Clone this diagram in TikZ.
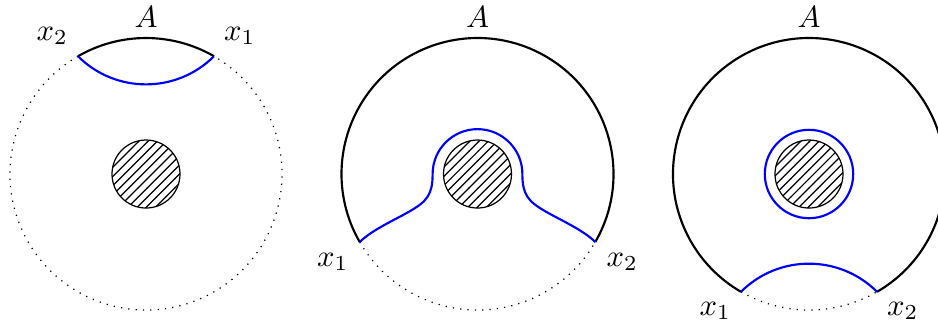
\documentclass[tikz,border=0pt]{standalone}
\usepackage{amsmath,amssymb}
\usepackage{tikz}
\usetikzlibrary{patterns, calc}

\begin{document}
\begin{tikzpicture}[
    x=0.39cm, y=0.39cm,
    bdry/.style={line width=0.7pt},
    geod/.style={blue, line width=0.7pt},
    open/.style={dotted},
    hole/.style={draw, pattern=north east lines}
]
\useasboundingbox (-4.294,-4.471) rectangle (23.294,5.118);

% === left: A small ===
\begin{scope}[shift={(0,0)}]
\coordinate (La) at (60:4);
\coordinate (Lb) at (120:4);
\draw[open] (120:4) arc[start angle=120, end angle=420, radius=4];
\draw[bdry] (La) arc[start angle=60, end angle=120, radius=4];
\draw[geod] (Lb) to[bend right=45] (La);
\draw[hole] (0,0) circle[radius=1];
\node (LA) at (0,4) [above] {$A$};
\node (Lx1) at (2.76,4.06) {$x_1$};
\node (Lx2) at (-2.76,4.06) {$x_2$};
\end{scope}

% === middle: A large, curve wraps the hole ===
\begin{scope}[shift={(9.75,0)}]
\coordinate (Ma) at (210:4);
\coordinate (Mb) at (-30:4);
\draw[open] (Ma) arc[start angle=210, end angle=330, radius=4];
\draw[bdry] (Mb) arc[start angle=-30, end angle=210, radius=4];
\draw[geod] (Ma)
    .. controls +(45:0.5) and +(210:0.5) .. (-2.0,-1.1)
    .. controls +(30:0.6) and +(0,-0.6) .. (-1.32,0)
    arc[start angle=180, end angle=0, radius=1.32]
    .. controls +(0,-0.6) and +(150:0.6) .. (2.0,-1.1)
    .. controls +(-30:0.5) and +(135:0.5) .. (Mb);
\draw[hole] (0,0) circle[radius=1];
\node (MA) at (0,4) [above] {$A$};
\node (Mx1) at (-4.26,-2.59) {$x_1$};
\node (Mx2) at (4.26,-2.59) {$x_2$};
\end{scope}

% === right: A large, two pieces ===
\begin{scope}[shift={(19.5,0)}]
\coordinate (Ra) at (240:4);
\coordinate (Rb) at (300:4);
\draw[open] (Ra) arc[start angle=240, end angle=300, radius=4];
\draw[bdry] (Rb) arc[start angle=-60, end angle=240, radius=4];
\draw[geod] (Ra) to[bend left=45] (Rb);
\draw[geod] (0,0) circle[radius=1.3];
\draw[hole] (0,0) circle[radius=1];
\node (RA) at (0,4) [above] {$A$};
\node (Rx1) at (-2.76,-4.03) {$x_1$};
\node (Rx2) at (2.76,-4.03) {$x_2$};
\end{scope}

\end{tikzpicture}
\end{document}
